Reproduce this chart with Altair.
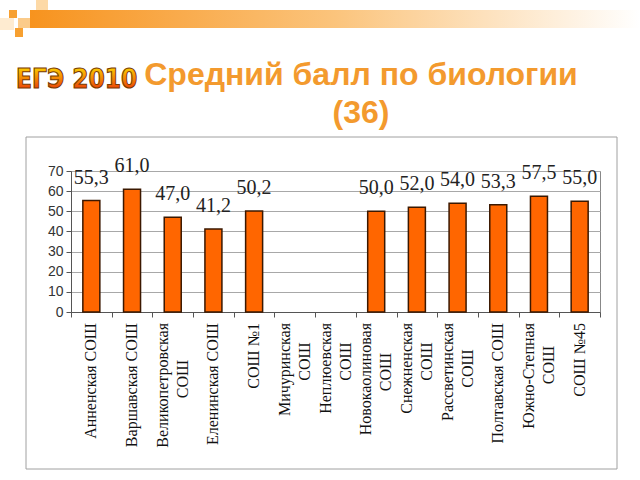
import altair as alt
import pandas as pd

schools = ["Анненская СОШ", "Варшавская СОШ", "Великопетровская|СОШ", "Еленинская СОШ",
           "СОШ №1", "Мичуринская|СОШ", "Неплюевская|СОШ", "Новокаолиновая|СОШ",
           "Снежненская|СОШ", "Рассветинская|СОШ", "Полтавская СОШ", "Южно-Степная|СОШ",
           "СОШ №45"]
scores = [55.3, 61.0, 47.0, 41.2, 50.2, None, None, 50.0, 52.0, 54.0, 53.3, 57.5, 55.0]
y_ticks = [0, 10, 20, 30, 40, 50, 60, 70]
title_line1 = "Средний балл по биологии"
title_line2 = "(36)"
badge = "ЕГЭ 2010"

df = pd.DataFrame({"school": schools, "score": scores})
one = pd.DataFrame({"k": [0]})

PLOT_H = 141
Y_MAX = 70
PX = Y_MAX / PLOT_H  # data units per pixel below the axis

x = alt.X("school:N", sort=schools, title=None,
          scale=alt.Scale(paddingInner=0, paddingOuter=0),
          axis=alt.Axis(labels=False, tickBand="extent", tickSize=5, tickColor="#555555",
                        domainColor="#555555", grid=False))
yscale = alt.Scale(domain=[0, Y_MAX])
y_axis = alt.Axis(values=y_ticks, labelFont="Liberation Sans", labelFontSize=14,
                  labelColor="#333333", tickSize=5, tickColor="#555555",
                  domainColor="#555555", gridColor="#A8A8A8", labelPadding=3)
y = alt.Y("score:Q", scale=yscale, title=None, axis=y_axis)

bars = alt.Chart(df).mark_bar(size=17, color="#FF6600", stroke="#3B1800",
                              strokeWidth=1.5).encode(x=x, y=y)

labels = alt.Chart(df).transform_filter("isValid(datum.score)").transform_calculate(
    lbl="replace(format(datum.score, '.1f'), '.', ',')"
).mark_text(font="Liberation Serif", fontSize=20, dy=-17, baseline="alphabetic",
            color="#222222").encode(x=x, y=y, text="lbl:N")

name_style = dict(angle=270, baseline="middle", font="Liberation Serif", fontSize=16,
                  color="#111111")
ytop = alt.Y("ypos:Q", scale=yscale, title=None, axis=y_axis)

names_single = alt.Chart(df).transform_filter("indexof(datum.school, '|') < 0").transform_calculate(
    ypos=f"-11 * {PX}"
).mark_text(align="right", **name_style).encode(x=x, y=ytop, text="school:N")

names_first = alt.Chart(df).transform_filter("indexof(datum.school, '|') >= 0").transform_calculate(
    l1="split(datum.school, '|')[0]", ypos=f"-11 * {PX}"
).mark_text(align="right", dy=-10, **name_style).encode(x=x, y=ytop, text="l1:N")

names_second = alt.Chart(df).transform_filter("indexof(datum.school, '|') >= 0").transform_calculate(
    l2="split(datum.school, '|')[1]",
    ypos=f"-(11 + length(split(datum.school, '|')[0]) * 3.5) * {PX}"
).mark_text(align="center", dy=10, **name_style).encode(x=x, y=ytop, text="l2:N")

box = alt.Chart(one).mark_rect(fillOpacity=0, stroke="#A0A0A0", strokeWidth=1).encode(
    x=alt.value(-45), x2=alt.value(546), y=alt.value(-34), y2=alt.value(298))

top_bar = alt.Chart(one).mark_rect(
    fill=alt.LinearGradient(gradient="linear", x1=0, x2=1, y1=0, y2=0,
                            stops=[alt.GradientStop(color="#F7931E", offset=0),
                                   alt.GradientStop(color="#FBC47C", offset=0.5),
                                   alt.GradientStop(color="#FFFFFF", offset=1)])
).encode(x=alt.value(-41), x2=alt.value(569), y=alt.value(-161), y2=alt.value(-143))

def sq(x0, x1, y0, y1, color):
    return alt.Chart(one).mark_rect(color=color).encode(
        x=alt.value(x0 - 71), x2=alt.value(x1 - 71), y=alt.value(y0 - 171), y2=alt.value(y1 - 171))

squares = [
    sq(36, 48, 0, 10, "#FDD9A6"),
    sq(0, 14, 18, 30, "#FEEBD0"),
    sq(9, 17, 10, 18, "#F7A030"),
    sq(18, 30, 18, 28, "#FBCB8A"),
    sq(15, 23, 28, 37, "#F7A030"),
]

badge_text = alt.Chart(one).mark_text(
    text=badge, font="Liberation Sans Narrow, DejaVu Sans Condensed, sans-serif",
    fontWeight="bold", fontSize=26, align="left", baseline="alphabetic",
    fill=alt.LinearGradient(gradient="linear", x1=0, x2=0, y1=0, y2=1,
                            stops=[alt.GradientStop(color="#FFE600", offset=0),
                                   alt.GradientStop(color="#E8200A", offset=1)]),
    stroke="#7A3A00", strokeWidth=1
).encode(x=alt.value(16 - 71), y=alt.value(88 - 171))

t1 = alt.Chart(one).mark_text(text=title_line1, font="Liberation Sans", fontWeight="bold",
                              fontSize=32, color="#F39A2E", align="center",
                              baseline="alphabetic").encode(
    x=alt.value(361 - 71), y=alt.value(85 - 171))
t2 = alt.Chart(one).mark_text(text=title_line2, font="Liberation Sans", fontWeight="bold",
                              fontSize=32, color="#F39A2E", align="center",
                              baseline="alphabetic").encode(
    x=alt.value(361 - 71), y=alt.value(123 - 171))

chart = alt.layer(box, top_bar, *squares, bars, labels, names_single, names_first,
                  names_second, badge_text, t1, t2).properties(
    width=529, height=PLOT_H,
    autosize=alt.AutoSizeParams(type="none"),
    padding={"left": 71, "top": 171, "right": 40, "bottom": 168},
    background="white"
).configure_view(stroke="#888888")

chart.save("out.html", embed_options={"renderer": "svg", "actions": False})
